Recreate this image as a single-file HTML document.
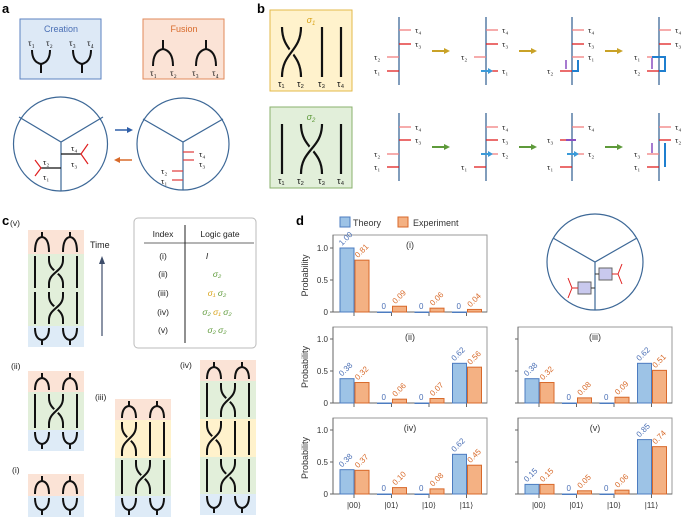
<!DOCTYPE html>
<html><head><meta charset="utf-8"><style>
body{margin:0;background:#fff}
svg{display:block;font-family:"Liberation Sans",sans-serif}
</style></head><body>
<svg id="fig" width="685" height="517" viewBox="0 0 685 517" xmlns="http://www.w3.org/2000/svg">
<g font-weight="bold" font-size="13" fill="#000">
<text x="2" y="13">a</text>
<text x="257" y="13">b</text>
<text x="2" y="225">c</text>
<text x="296" y="225">d</text>
</g>
<!-- panel a -->
<g>
<rect x="20" y="19" width="81" height="60" fill="#dde9f6" stroke="#5b82c0"/>
<text x="61" y="32" font-size="9" fill="#4a6fb5" text-anchor="middle">Creation</text>
<rect x="143" y="19" width="81" height="60" fill="#fbe3d6" stroke="#e08a5a"/>
<text x="184" y="32" font-size="9" fill="#d86a2a" text-anchor="middle">Fusion</text>
<g fill="none" stroke="#111" stroke-width="2">
<path d="M32 50 Q32 62 41 64 L41 73 M41 64 Q50 62 50 50"/>
<path d="M73 50 Q73 62 82 64 L82 73 M82 64 Q91 62 91 50"/>
<path d="M153 66 Q153 51 163 49 L163 40 M163 49 Q173 51 173 66"/>
<path d="M196 66 Q196 51 206 49 L206 40 M206 49 Q216 51 216 66"/>
</g>
<g font-size="9" fill="#111" font-family="Liberation Serif,serif">
<text x="28" y="46">τ₁</text><text x="46" y="46">τ₂</text><text x="69" y="46">τ₃</text><text x="87" y="46">τ₄</text>
<text x="150" y="76">τ₁</text><text x="170" y="76">τ₂</text><text x="192" y="76">τ₃</text><text x="212" y="76">τ₄</text>
</g>
<circle cx="60.5" cy="144" r="47" fill="none" stroke="#3d6897" stroke-width="1.2"/>
<path d="M19 117 L61 142 L103 117 M61 142 L61 191" stroke="#3d6897" stroke-width="1.2" fill="none"/>
<path d="M61 154 L81 154 M41 168 L61 168" stroke="#111" stroke-width="1.2"/>
<path d="M88 144 L81 154 L88 164 M35 160 L41 168 L35 176" stroke="#e02020" stroke-width="1.2" fill="none"/>
<g font-size="8.5" fill="#111" font-family="Liberation Serif,serif">
<text x="71" y="151">τ₄</text><text x="71" y="167">τ₃</text><text x="43" y="165">τ₂</text><text x="43" y="180">τ₁</text>
<text x="199" y="157">τ₄</text><text x="199" y="167">τ₃</text><text x="161" y="174">τ₂</text><text x="161" y="184">τ₁</text>
</g>
<circle cx="183" cy="144" r="46" fill="none" stroke="#3d6897" stroke-width="1.2"/>
<path d="M143 119 L183 142 L223 119 M183 142 L183 190" stroke="#3d6897" stroke-width="1.2" fill="none"/>
<path d="M183 152 L194 152 M183 160 L194 160 M172 171 L183 171 M172 180 L183 180" stroke="#e04040" stroke-width="1.2"/>
<path d="M115 130 L130 130" stroke="#2f5fa8" stroke-width="1.5"/><path d="M133 130 L127 127 L127 133Z" fill="#2f5fa8"/>
<path d="M117 160 L132 160" stroke="#d86a2a" stroke-width="1.5"/><path d="M114 160 L120 157 L120 163Z" fill="#d86a2a"/>
</g>
<!-- panel b -->
<g id="panelb">
<rect x="270" y="10" width="82" height="81" fill="#fff2cc" stroke="#e3b94a"/>
<text x="311" y="23" font-size="9" fill="#d9a41a" font-style="italic" text-anchor="middle">σ<tspan font-size="6" dy="2">1</tspan></text>
<rect x="270" y="107" width="82" height="81" fill="#e2efda" stroke="#8ab06c"/>
<text x="311" y="120" font-size="9" fill="#5e9a3a" font-style="italic" text-anchor="middle">σ<tspan font-size="6" dy="2">2</tspan></text>
</g>
<!-- panel c -->
<g id="panelc">
<rect x="134" y="218" width="122" height="130" rx="4" fill="#fff" stroke="#bbb"/>
<g font-size="8.5" fill="#222" text-anchor="middle">
<text x="163" y="237">Index</text><text x="220" y="237">Logic gate</text>
<text x="163" y="259">(i)</text><text x="163" y="277">(ii)</text><text x="163" y="296">(iii)</text><text x="163" y="315">(iv)</text><text x="163" y="333">(v)</text>
<text x="207" y="259" font-style="italic">I</text>
</g>
<g font-size="8.5" text-anchor="middle" font-style="italic">
<text x="217" y="277" fill="#5e9a3a">σ₂</text>
<text x="217" y="296"><tspan fill="#d9a41a">σ₁</tspan> <tspan fill="#5e9a3a">σ₂</tspan></text>
<text x="217" y="315"><tspan fill="#5e9a3a">σ₂</tspan> <tspan fill="#d9a41a">σ₁</tspan> <tspan fill="#5e9a3a">σ₂</tspan></text>
<text x="217" y="333" fill="#5e9a3a">σ₂ σ₂</text>
</g>
<path d="M144 243 L254 243" stroke="#888" stroke-width="1.2"/>
<path d="M185 225 L185 343" stroke="#222" stroke-width="1"/>
<path d="M102 336 L102 262" stroke="#3d4d6a" stroke-width="1.2"/><path d="M102 256 L99 264 L105 264Z" fill="#3d4d6a"/>
<text x="90" y="248" font-size="9" fill="#222">Time</text>
<g font-size="8.5" fill="#222">
<text x="10" y="226">(v)</text><text x="11" y="369">(ii)</text><text x="12" y="473">(i)</text><text x="95" y="400">(iii)</text><text x="180" y="368">(iv)</text>
</g>
</g>
<!-- panel d -->
<g id="paneld">
<rect x="340" y="217" width="10" height="10" fill="#9dc3e6" stroke="#4d7cc0"/>
<text x="353" y="226" font-size="9" fill="#333">Theory</text>
<rect x="398" y="217" width="10" height="10" fill="#f4b183" stroke="#d8692b"/>
<text x="413" y="226" font-size="9" fill="#333">Experiment</text>
<circle cx="595" cy="262" r="48" fill="none" stroke="#3d6897" stroke-width="1.2"/>
<path d="M553 238 L595 262 L637 238 M595 262 L595 310" stroke="#3d6897" stroke-width="1.2" fill="none"/>
<rect x="599" y="268" width="13" height="12" fill="#c9c9ee" stroke="#666"/><rect x="578" y="282" width="13" height="12" fill="#c9c9ee" stroke="#666"/>
<path d="M612 274 L618 274 L622 264 M618 274 L622 284 M578 288 L572 288 L568 278 M572 288 L568 298" stroke="#e02020" stroke-width="1" fill="none"/>
<path d="M591 288 L595 288 M595 274 L599 274" stroke="#333"/>
</g>
</svg>
<script>
const NS='http://www.w3.org/2000/svg';
const categories=['|00⟩','|01⟩','|10⟩','|11⟩'];
const chartTitles=['(i)','(ii)','(iii)','(iv)','(v)'];
const theory1=[1.00,0,0,0];
const experiment1=[0.81,0.09,0.06,0.04];
const theory2=[0.38,0,0,0.62];
const experiment2=[0.32,0.06,0.07,0.56];
const theory3=[0.38,0,0,0.62];
const experiment3=[0.32,0.08,0.09,0.51];
const theory4=[0.38,0,0,0.62];
const experiment4=[0.37,0.10,0.08,0.45];
const theory5=[0.15,0,0,0.85];
const experiment5=[0.15,0.05,0.06,0.74];
const yTicks=[0,0.5,1.0];
const yTickLabels=['0','0.5','1.0'];

function mk(tag,attrs,parent){const e=document.createElementNS(NS,tag);for(const k in attrs)e.setAttribute(k,attrs[k]);(parent||document.getElementById('fig')).appendChild(e);return e;}
const pd=document.getElementById('paneld');
const layouts=[{x:333,top:235,base:312,labels:true,xl:false},{x:333,top:327,base:403,labels:true,xl:false},{x:518,top:327,base:403,labels:false,xl:false},{x:333,top:418,base:494,labels:true,xl:true},{x:518,top:418,base:494,labels:false,xl:true}];
const th=[theory1,theory2,theory3,theory4,theory5];
const ex=[experiment1,experiment2,experiment3,experiment4,experiment5];
layouts.forEach((L,ci)=>{
  const g=mk('g',{},pd);
  
  
  const yS=v=>L.base-v*64;
  const xS=i=>L.x+21+i*37.5;
  mk('rect',{x:L.x,y:L.top,width:154,height:L.base-L.top,fill:'none',stroke:'#999','stroke-width':1},g);
  mk('path',{d:`M${L.x} ${L.base} L${L.x+154} ${L.base}`,stroke:'#666','stroke-width':1},g);
  mk('path',{d:`M${L.x} ${L.top} L${L.x} ${L.base}`,stroke:'#666','stroke-width':1},g);
  const t=mk('text',{x:L.x+77,y:L.top+13,'font-size':9,fill:'#333','text-anchor':'middle'},g);t.textContent=chartTitles[ci];
  
  
  yTicks.forEach((v,k)=>{
    mk('path',{d:`M${L.x-3} ${yS(v)} L${L.x} ${yS(v)}`,stroke:'#666'},g);
    if(L.labels){const tl=mk('text',{x:L.x-5,y:yS(v)+3,'font-size':8,fill:'#333','text-anchor':'end'},g);tl.textContent=yTickLabels[k];
      
      }
  });
  if(L.labels){const yl=mk('text',{x:0,y:0,'font-size':9,fill:'#333','text-anchor':'middle',transform:`translate(${L.x-25},${(L.top+L.base)/2+2}) rotate(-90)`},g);yl.textContent='Probability';
    
    }
  categories.forEach((c,i)=>{
    const cx=xS(i);
    mk('path',{d:`M${cx} ${L.base} L${cx} ${L.base+4}`,stroke:'#666'},g);
    const tv=th[ci][i],ev=ex[ci][i];
    const b1=mk('rect',{x:cx-14,y:yS(tv),width:14,height:Math.max(tv*64,0.5),fill:'#9dc3e6',stroke:'#4d7cc0','stroke-width':1},g);
    
    
    const b2=mk('rect',{x:cx+1,y:yS(ev),width:14,height:Math.max(ev*64,0.5),fill:'#f4b183',stroke:'#d8692b','stroke-width':1},g);
    
    
    const l1=mk('text',{'font-size':8,fill:'#4a6fb5',transform:tv>0?`translate(${cx-12},${yS(tv)-2}) rotate(-45)`:`translate(${cx-10},${yS(tv)-3})`},g);l1.textContent=tv>0?tv.toFixed(2):'0';
    const l2=mk('text',{'font-size':8,fill:'#d86a2a',transform:`translate(${cx+4},${yS(ev)-2}) rotate(-45)`},g);l2.textContent=ev.toFixed(2);
    if(L.xl){const xl=mk('text',{x:cx,y:L.base+14,'font-size':8,fill:'#333','text-anchor':'middle'},g);xl.textContent=c;
      
      }
  });
});

// braid drawings
const pc=document.getElementById('panelc');
const cols={F:'#fbe3d6',C:'#deebf7',s1:'#fff2cc',s2:'#e2efda'};
function strands(x0){return [x0+7,x0+21,x0+35,x0+49];}
function braid(x0,y0,secs,parent){
  let y=y0;const sx=strands(x0);
  secs.forEach(([t,h])=>{
    mk('rect',{x:x0,y:y,width:56,height:h,fill:cols[t]},parent);
    const y1=y+2,y2=y+h-2;
    if(t==='F'){[[0,1],[2,3]].forEach(([a,b])=>{const m=(sx[a]+sx[b])/2;
      mk('path',{d:`M${sx[a]} ${y2} Q${sx[a]} ${y1+6} ${m} ${y1+5} Q${sx[b]} ${y1+6} ${sx[b]} ${y2} M${m} ${y1+5} L${m} ${y1}`,fill:'none',stroke:'#111','stroke-width':2},parent);});}
    else if(t==='C'){[[0,1],[2,3]].forEach(([a,b])=>{const m=(sx[a]+sx[b])/2;
      mk('path',{d:`M${sx[a]} ${y1} Q${sx[a]} ${y2-6} ${m} ${y2-5} Q${sx[b]} ${y2-6} ${sx[b]} ${y1} M${m} ${y2-5} L${m} ${y2}`,fill:'none',stroke:'#111','stroke-width':2},parent);});}
    else{const p=t==='s1'?[0,1]:[1,2];const a=sx[p[0]],b=sx[p[1]],mid=(y1+y2)/2;
      sx.forEach((x,k)=>{if(!p.includes(k))mk('path',{d:`M${x} ${y1} L${x} ${y2}`,stroke:'#111','stroke-width':2},parent);});
      mk('path',{d:`M${a} ${y1} L${a} ${y1+4} C${a} ${mid} ${b} ${mid} ${b} ${y2-4} L${b} ${y2}`,fill:'none',stroke:'#111','stroke-width':2},parent);
      mk('path',{d:`M${b} ${y1} L${b} ${y1+4} C${b} ${mid} ${a} ${mid} ${a} ${y2-4} L${a} ${y2}`,fill:'none',stroke:cols[t],'stroke-width':5},parent);
      mk('path',{d:`M${b} ${y1} L${b} ${y1+4} C${b} ${mid} ${a} ${mid} ${a} ${y2-4} L${a} ${y2}`,fill:'none',stroke:'#111','stroke-width':2},parent);}
    y+=h;
  });
}
const bv=mk('g',{},pc);


braid(28,230,[['F',24],['s2',36],['s2',36],['C',21]],bv);
const b2=mk('g',{},pc);


braid(28,371,[['F',21],['s2',38],['C',21]],b2);
const b1=mk('g',{},pc);


braid(28,474,[['F',22],['C',21]],b1);
const b3=mk('g',{},pc);


braid(115,399,[['F',21],['s1',38],['s2',38],['C',21]],b3);
const b4=mk('g',{},pc);


braid(200,360,[['F',21],['s2',38],['s1',38],['s2',37],['C',21]],b4);

// panel b
const pb=document.getElementById('panelb');
function sig(y0,pair,col){
  const sx=[282,301,322,341];
  sx.forEach((x,k)=>{if(!pair.includes(k))mk('path',{d:`M${x} ${y0} L${x} ${y0+50}`,stroke:'#111','stroke-width':2.2},pb);});
  const a=sx[pair[0]],b=sx[pair[1]],m=y0+25;
  mk('path',{d:`M${a} ${y0} C${a} ${m} ${b} ${m} ${b} ${y0+50}`,fill:'none',stroke:'#111','stroke-width':2.2},pb);
  mk('path',{d:`M${b} ${y0} C${b} ${m} ${a} ${m} ${a} ${y0+50}`,fill:'none',stroke:col,'stroke-width':6},pb);
  mk('path',{d:`M${b} ${y0} C${b} ${m} ${a} ${m} ${a} ${y0+50}`,fill:'none',stroke:'#111','stroke-width':2.2},pb);
  ['τ₁','τ₂','τ₃','τ₄'].forEach((s,k)=>{const t=mk('text',{x:sx[k]-4,y:y0+60,'font-size':9,fill:'#111'},pb);t.textContent=s;});
}
sig(27,[0,1],'#fff2cc');sig(124,[1,2],'#e2efda');
const bx=[399,486,572,659];
function tick(X,y,side,lab,pink){
  const c=pink?'#f08080':'#e02020';
  mk('path',{d:side>0?`M${X} ${y} L${X+12} ${y}`:`M${X-12} ${y} L${X} ${y}`,stroke:c,'stroke-width':1.3},pb);
  const t=mk('text',{x:side>0?X+16:X-25,y:y+3,'font-size':8.5,fill:'#222','font-family':'Liberation Serif,serif'},pb);t.textContent=lab;
}
const rowsB=[
 {y:17,arrow:'#c9a227',st:[[[1,30,'τ₄'],[1,44,'τ₃'],[-1,57,'τ₂'],[-1,71,'τ₁']],[[1,30,'τ₄'],[1,44,'τ₃'],[-1,57,'τ₂'],[1,71,'τ₁']],[[1,30,'τ₄'],[1,44,'τ₃'],[1,57,'τ₁'],[-1,71,'τ₂']],[[1,30,'τ₄'],[1,44,'τ₃'],[-1,57,'τ₁'],[-1,71,'τ₂']]]},
 {y:113,arrow:'#5e9a3a',st:[[[1,127,'τ₄'],[1,140,'τ₃'],[-1,154,'τ₂'],[-1,167,'τ₁']],[[1,127,'τ₄'],[1,140,'τ₃'],[1,154,'τ₂'],[-1,167,'τ₁']],[[1,127,'τ₄'],[-1,140,'τ₃'],[1,154,'τ₂'],[-1,167,'τ₁']],[[1,127,'τ₄'],[1,140,'τ₂'],[-1,154,'τ₃'],[-1,167,'τ₁']]]}
];
rowsB.forEach(r=>{
  bx.forEach((X,i)=>{
    mk('path',{d:`M${X} ${r.y} L${X} ${r.y+68}`,stroke:'#3d6897','stroke-width':1.3},pb);
    r.st[i].forEach(([s,y,l],k)=>tick(X,y,s,l,k%2===0));
    if(i<3){const ay=r.y+34;mk('path',{d:`M${X+33} ${ay} L${X+47} ${ay}`,stroke:r.arrow,'stroke-width':2},pb);mk('path',{d:`M${X+51} ${ay} L${X+45} ${ay-3} L${X+45} ${ay+3}Z`,fill:r.arrow},pb);}
  });
});
[[486,71],[486,154],[572,154]].forEach(([X,y])=>{mk('path',{d:`M${X-5} ${y} L${X+4} ${y}`,stroke:'#3a9ad9','stroke-width':2},pb);mk('path',{d:`M${X+7} ${y} L${X+2} ${y-3} L${X+2} ${y+3}Z`,fill:'#3a9ad9'},pb);});
mk('path',{d:`M572 71 L578 71 L578 60`,fill:'none',stroke:'#1f7fcf','stroke-width':2},pb);
mk('path',{d:`M659 71 L665 71 L665 57 L652 57`,fill:'none',stroke:'#1f7fcf','stroke-width':2},pb);
mk('path',{d:`M665 167 L665 143`,fill:'none',stroke:'#1f7fcf','stroke-width':2},pb);
mk('path',{d:`M566 60 L566 69 M652 58 L652 69 M652 143 L652 153`,stroke:'#8a4fc0','stroke-width':1.5},pb);
mk('path',{d:`M576 140 L566 140`,stroke:'#8a4fc0','stroke-width':2},pb);
</script>
</body></html>
